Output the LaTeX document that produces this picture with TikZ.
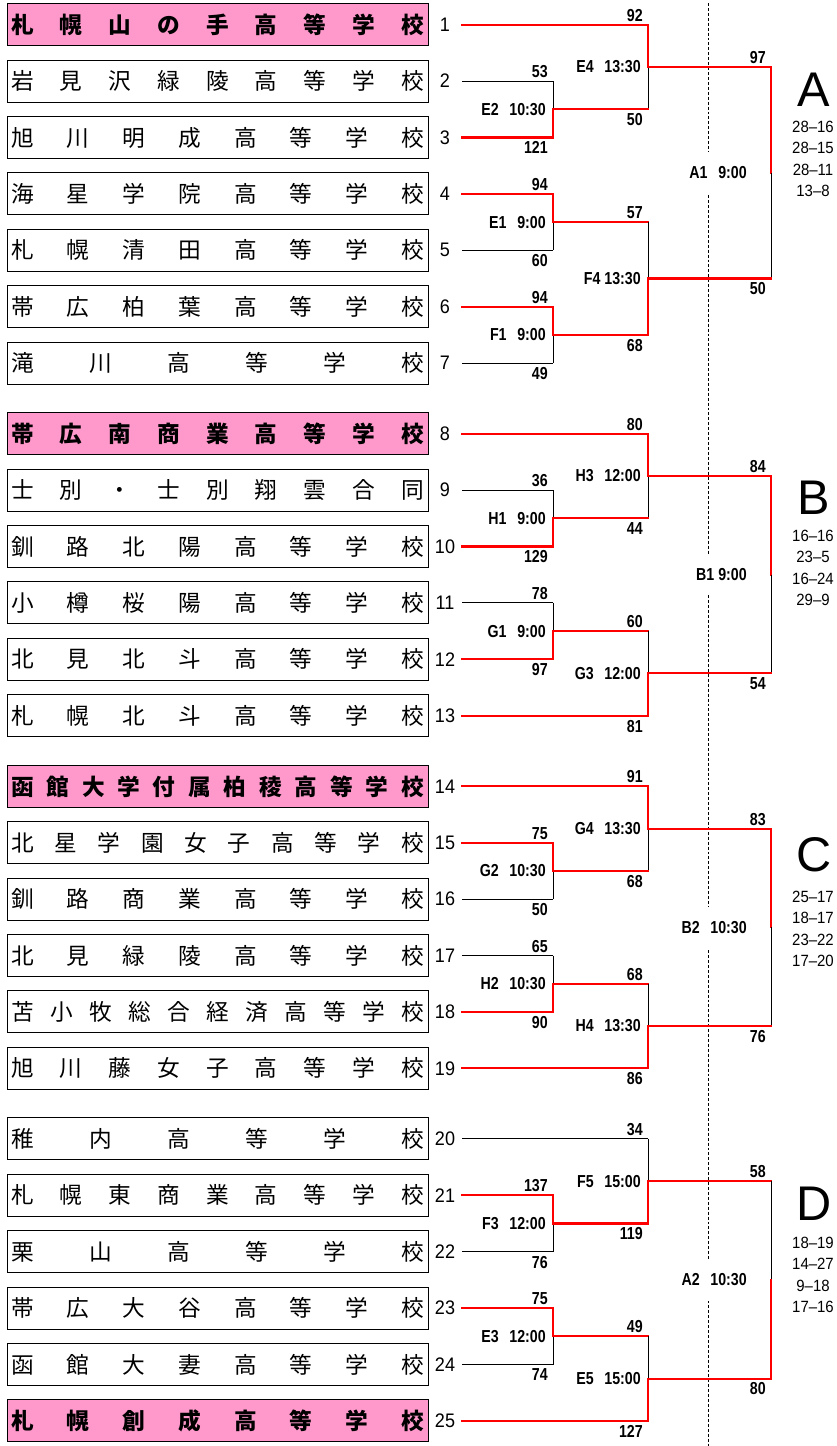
\documentclass[tikz,border=0pt]{standalone}
\usepackage{fontspec}
\newfontfamily\jpfont{Noto Sans CJK JP}
\newfontfamily\numfont[FakeStretch=0.82]{Liberation Sans}
\newfontfamily\rowfont[FakeStretch=0.92]{Liberation Sans}
\newfontfamily\letterfont{Liberation Sans}
\usetikzlibrary{calc}
\definecolor{seedpink}{HTML}{FF99CC}

% spread the characters of a name over a fixed width
\newcommand\spreadend{}
\newcommand\spreadchars[1]{\spreadfirst#1\spreadend}
\def\spreadfirst#1{#1\spreadrest}
\def\spreadrest#1{\ifx#1\spreadend\else\hfill#1\expandafter\spreadrest\fi}
\newcommand\spreadname[1]{\expandafter\spreadchars\expandafter{#1}}
\newcommand\gap{\hspace{8pt}}

\begin{document}
\begin{tikzpicture}[x=0.75pt, y=-0.75pt,
    namebox/.style={draw, line width=0.75pt, minimum width=315.75pt, minimum height=31.5pt, inner sep=0pt, font=\jpfont\fontsize{17}{17}\selectfont},
    seedbox/.style={namebox, fill=seedpink, font=\jpfont\bfseries\fontsize{17}{17}\selectfont},
    rownum/.style={inner sep=0pt, font=\rowfont\fontsize{14.7}{14.7}\selectfont},
    win/.style={red, line width=1.6pt, line cap=rect},
    lose/.style={black, line width=0.75pt},
    guide/.style={black, line width=0.6pt, dash pattern=on 2.2pt off 1.5pt},
    score/.style={inner sep=0pt, font=\numfont\bfseries\fontsize{13}{13}\selectfont},
    lbl/.style={score, anchor=east, xshift=-5.25pt},
    finlbl/.style={score, anchor=east, xshift=-18pt, fill=white, minimum height=31pt},
    block/.style={inner sep=0pt, font=\letterfont\fontsize{36.5}{36.5}\selectfont},
    blockscore/.style={inner sep=0pt, align=center, font=\rowfont\fontsize{12.2}{16.1}\selectfont}
]
\useasboundingbox (0,0) rectangle (837,1446);

% Schools
\foreach \i/\nm/\st in {1/札幌山の手高等学校/seedbox, 2/岩見沢緑陵高等学校/namebox,
    3/旭川明成高等学校/namebox, 4/海星学院高等学校/namebox, 5/札幌清田高等学校/namebox,
    6/帯広柏葉高等学校/namebox, 7/滝川高等学校/namebox, 8/帯広南商業高等学校/seedbox,
    9/士別・士別翔雲合同/namebox, 10/釧路北陽高等学校/namebox, 11/小樽桜陽高等学校/namebox,
    12/北見北斗高等学校/namebox, 13/札幌北斗高等学校/namebox, 14/函館大学付属柏稜高等学校/seedbox,
    15/北星学園女子高等学校/namebox, 16/釧路商業高等学校/namebox, 17/北見緑陵高等学校/namebox,
    18/苫小牧総合経済高等学校/namebox, 19/旭川藤女子高等学校/namebox, 20/稚内高等学校/namebox,
    21/札幌東商業高等学校/namebox, 22/栗山高等学校/namebox, 23/帯広大谷高等学校/namebox,
    24/函館大妻高等学校/namebox, 25/札幌創成高等学校/seedbox}{
  \pgfmathtruncatemacro\g{(\i>7)+(\i>13)+(\i>19)}
  \pgfmathsetmacro\yy{24.7+(\i-1)*56.4+14.2*\g}
  \node[\st] (s\i) at (217.5,\yy) {\hbox to 309.4pt{\spreadname{\nm}}};
  \node[rownum] (n\i) at (445,\yy) {\i};
  \coordinate (r\i) at (462,\yy);
}

% Match points
\coordinate (j1) at (553,0);
\coordinate (j2) at (648,0);
\coordinate (j3) at (771,0);
\foreach \mm/\ta/\tb/\jx in {E2/r2/r3/j1, E1/r4/r5/j1, F1/r6/r7/j1, H1/r9/r10/j1,
    G1/r11/r12/j1, G2/r15/r16/j1, H2/r17/r18/j1, F3/r21/r22/j1, E3/r23/r24/j1,
    E4/r1/E2/j2, F4/E1/F1/j2, H3/r8/H1/j2, G3/G1/r13/j2, G4/r14/G2/j2, H4/H2/r19/j2,
    F5/r20/F3/j2, E5/E3/r25/j2, A1/E4/F4/j3, B1/H3/G3/j3, B2/G4/H4/j3, A2/F5/E5/j3}
  \path let \p1=($(\ta)!.5!(\tb)$), \p2=(\jx) in coordinate (\mm) at (\x2,\y1);

% Dashed guide
\coordinate (dtop) at (708,3);
\coordinate (dbot) at (708,1446);
\draw[guide] (dtop) -- (dbot);

% Bracket lines
\foreach \mm/\ta/\tb/\sa/\va/\vb/\sb in {
    E2/r2/r3/lose/lose/win/win, E1/r4/r5/win/win/lose/lose,
    F1/r6/r7/win/win/lose/lose, H1/r9/r10/lose/lose/win/win,
    G1/r11/r12/lose/lose/win/win, G2/r15/r16/win/win/lose/lose,
    H2/r17/r18/lose/lose/win/win, F3/r21/r22/win/win/lose/lose,
    E3/r23/r24/win/win/lose/lose, E4/r1/E2/win/win/lose/win,
    F4/E1/F1/win/lose/win/win, H3/r8/H1/win/win/lose/win,
    G3/G1/r13/win/lose/win/win, G4/r14/G2/win/win/lose/win,
    H4/H2/r19/win/lose/win/win, F5/r20/F3/lose/lose/win/win,
    E5/E3/r25/win/lose/win/win, A1/E4/F4/win/win/lose/win,
    B1/H3/G3/win/win/lose/win, B2/G4/H4/win/win/lose/win,
    A2/F5/E5/win/lose/win/win}{
  \draw[\sa] (\ta) -- (\ta -| \mm);
  \draw[\va] (\ta -| \mm) -- (\mm);
  \draw[\vb] (\mm) -- (\tb -| \mm);
  \draw[\sb] (\tb) -- (\tb -| \mm);
}

% Scores and match labels
\foreach \mm/\ta/\tb/\pa/\pb/\ls/\lab in {
    E2/r2/r3/53/121/lbl/E2\gap10:30, E1/r4/r5/94/60/lbl/E1\gap9:00,
    F1/r6/r7/94/49/lbl/F1\gap9:00, H1/r9/r10/36/129/lbl/H1\gap9:00,
    G1/r11/r12/78/97/lbl/G1\gap9:00, G2/r15/r16/75/50/lbl/G2\gap10:30,
    H2/r17/r18/65/90/lbl/H2\gap10:30, F3/r21/r22/137/76/lbl/F3\gap12:00,
    E3/r23/r24/75/74/lbl/E3\gap12:00, E4/r1/E2/92/50/lbl/E4\gap13:30,
    F4/E1/F1/57/68/lbl/F4~13:30, H3/r8/H1/80/44/lbl/H3\gap12:00,
    G3/G1/r13/60/81/lbl/G3\gap12:00, G4/r14/G2/91/68/lbl/G4\gap13:30,
    H4/H2/r19/68/86/lbl/H4\gap13:30, F5/r20/F3/34/119/lbl/F5\gap15:00,
    E5/E3/r25/49/127/lbl/E5\gap15:00, A1/E4/F4/97/50/finlbl/A1\gap9:00,
    B1/H3/G3/84/54/finlbl/B1~9:00, B2/G4/H4/83/76/finlbl/B2\gap10:30,
    A2/F5/E5/58/80/finlbl/A2\gap10:30}{
  \node[score, anchor=south east, xshift=-3.75pt, yshift=2.25pt] (\mm-t) at (\ta -| \mm) {\pa};
  \node[score, anchor=north east, xshift=-3.75pt, yshift=-3pt] (\mm-b) at (\tb -| \mm) {\pb};
  \node[\ls] (\mm-l) at (\mm) {\lab};
}

% Blocks
\node[block] (blkA) at (814,89.5) {A};
\node[blockscore] (resA) at (813,159) {28–16\\28–15\\28–11\\13–8};
\node[block] (blkB) at (814,498) {B};
\node[blockscore] (resB) at (813,568) {16–16\\23–5\\16–24\\29–9};
\node[block] (blkC) at (814,855) {C};
\node[blockscore] (resC) at (813,929) {25–17\\18–17\\23–22\\17–20};
\node[block] (blkD) at (814,1203.3) {D};
\node[blockscore] (resD) at (813,1275) {18–19\\14–27\\9–18\\17–16};

\end{tikzpicture}
\end{document}
